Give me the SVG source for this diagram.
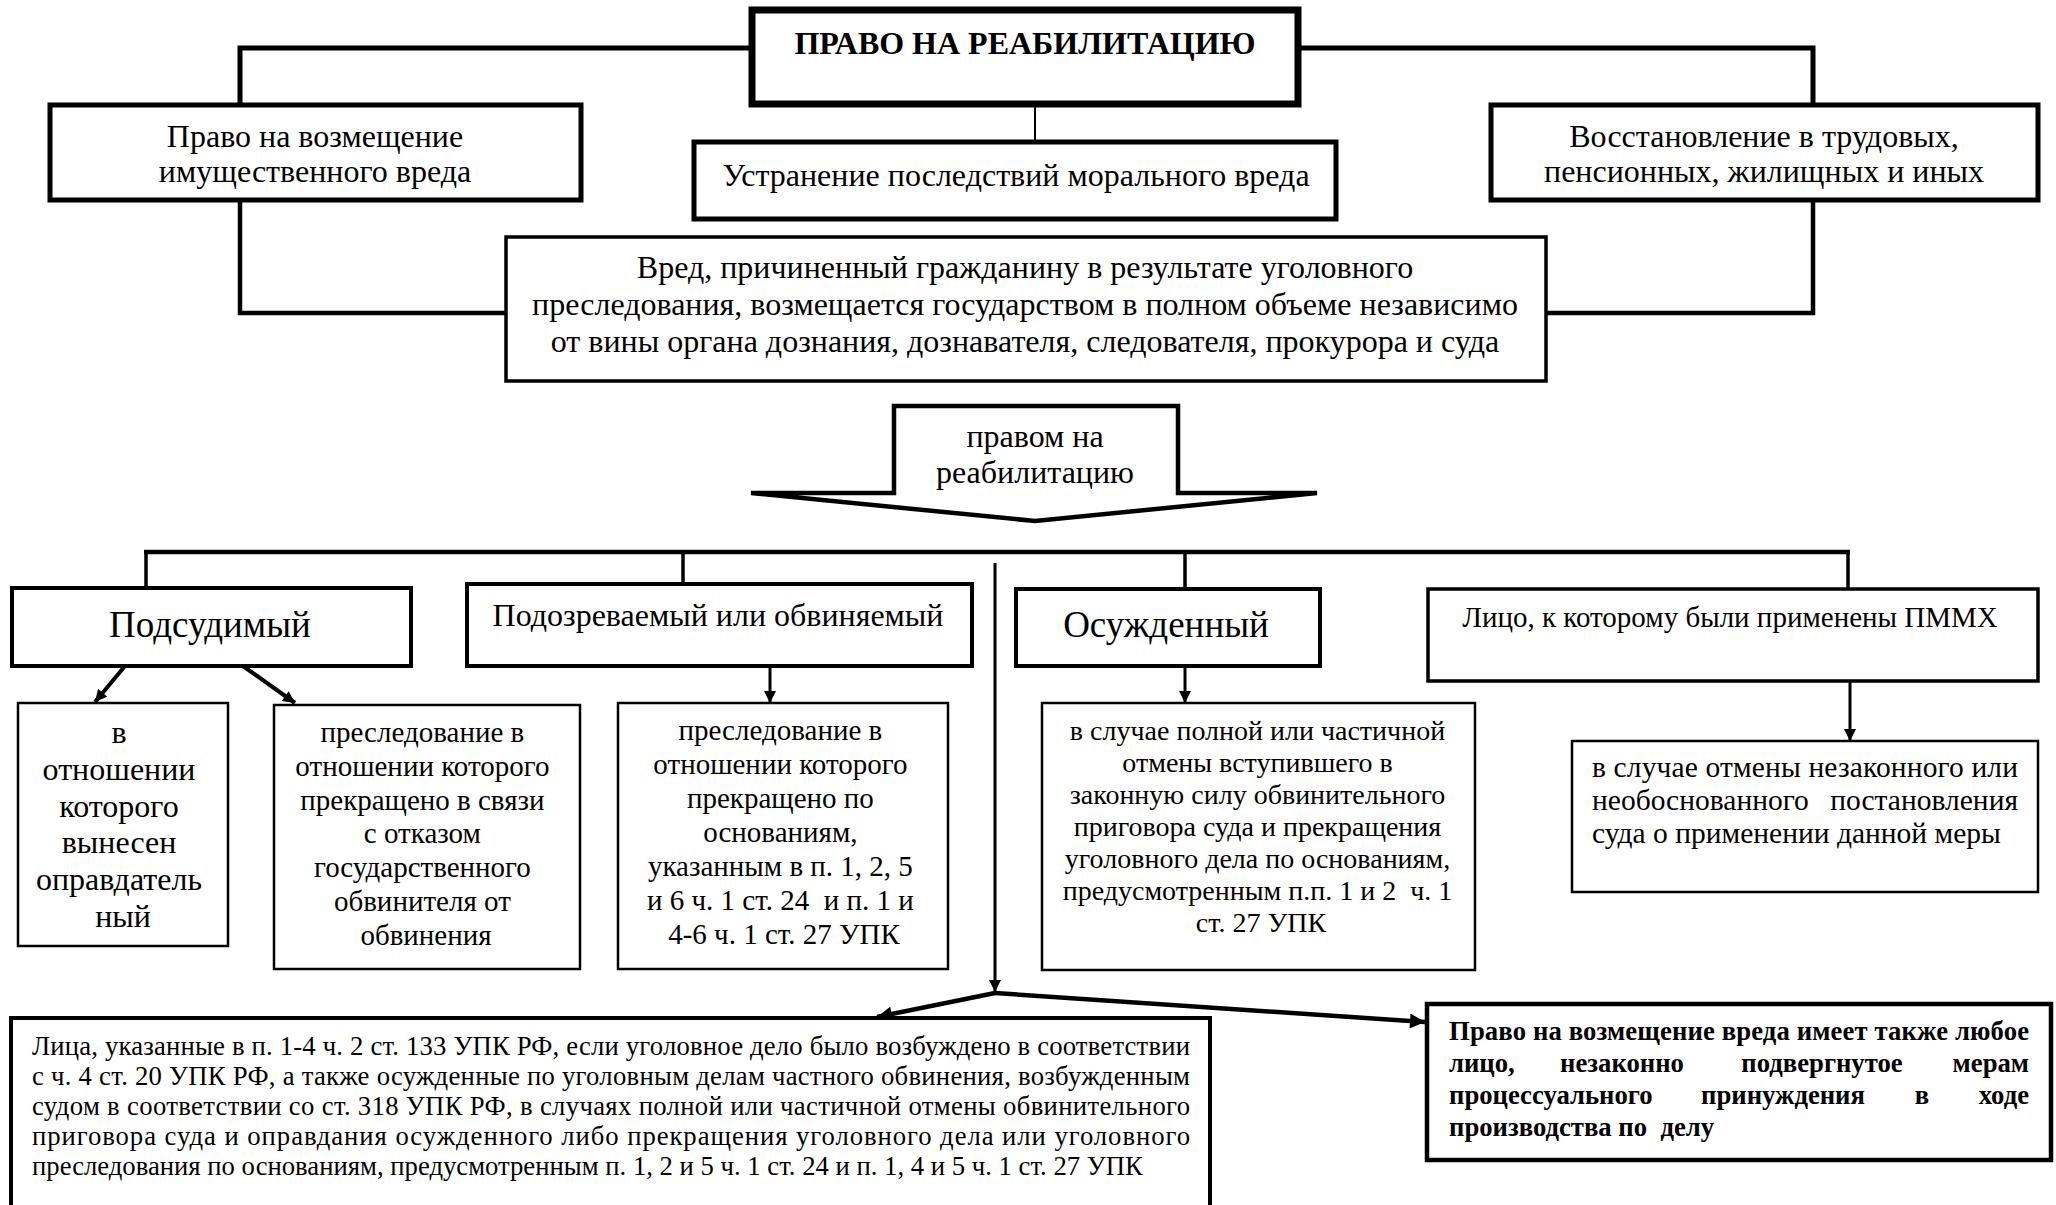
<svg xmlns="http://www.w3.org/2000/svg" width="2056" height="1205" viewBox="0 0 2056 1205">
<style>
  text { font-family: "Liberation Serif", "Times New Roman", serif; fill: #000; }
  .c { text-anchor: middle; }
  .e { text-anchor: end; }
  .box { fill: #fff; stroke: #000; }
  .conn { fill: none; stroke: #000; stroke-linejoin: miter; }
</style>
<defs>
  <marker id="ah" viewBox="0 0 10 10" refX="10" refY="5" markerUnits="userSpaceOnUse" markerWidth="13" markerHeight="12" orient="auto">
    <path d="M0,0 L10,5 L0,10 z" fill="#000"/>
  </marker>
  <marker id="ahL" viewBox="0 0 10 10" refX="10" refY="5" markerUnits="userSpaceOnUse" markerWidth="18" markerHeight="15" orient="auto">
    <path d="M0,0 L10,5 L0,10 z" fill="#000"/>
  </marker>
</defs>
<rect width="2056" height="1205" fill="#fff"/>

<g id="connectors">
  <polyline class="conn" stroke-width="5" points="752,48 240,48 240,105"/>
  <polyline class="conn" stroke-width="5" points="1298,48 1813,48 1813,105"/>
  <line class="conn" stroke-width="2" x1="1035" y1="104" x2="1035" y2="142"/>
  <polyline class="conn" stroke-width="4.5" points="240,200 240,313 506,313"/>
  <polyline class="conn" stroke-width="4.5" points="1813,200 1813,313 1546,313"/>
  <line class="conn" stroke-width="4.5" x1="144" y1="552" x2="1850" y2="552"/>
  <line class="conn" stroke-width="3.5" x1="146" y1="552" x2="146" y2="588"/>
  <line class="conn" stroke-width="3.5" x1="683" y1="552" x2="683" y2="584"/>
  <line class="conn" stroke-width="3.5" x1="1185" y1="552" x2="1185" y2="589"/>
  <line class="conn" stroke-width="3.5" x1="1848" y1="552" x2="1848" y2="589"/>
  <line class="conn" stroke-width="3" x1="995" y1="563" x2="995" y2="992" marker-end="url(#ah)"/>
  <line class="conn" stroke-width="4" x1="125" y1="666" x2="95" y2="702" marker-end="url(#ah)"/>
  <line class="conn" stroke-width="4" x1="243" y1="666" x2="295" y2="703" marker-end="url(#ah)"/>
  <line class="conn" stroke-width="3" x1="770" y1="666" x2="770" y2="703" marker-end="url(#ah)"/>
  <line class="conn" stroke-width="3" x1="1185" y1="666" x2="1185" y2="703" marker-end="url(#ah)"/>
  <line class="conn" stroke-width="3" x1="1850" y1="681" x2="1850" y2="741" marker-end="url(#ah)"/>
  <line class="conn" stroke-width="4.5" x1="995" y1="993" x2="877" y2="1017" marker-end="url(#ahL)"/>
  <line class="conn" stroke-width="4.5" x1="995" y1="993" x2="1425" y2="1022" marker-end="url(#ahL)"/>
</g>

<g id="node-title">
  <rect class="box" stroke-width="7" x="752" y="10" width="546" height="94"/>
  <text class="c" x="1025" y="54" font-size="32" font-weight="bold">ПРАВО НА РЕАБИЛИТАЦИЮ</text>
</g>

<g id="node-property">
  <rect class="box" stroke-width="5" x="50" y="105" width="531" height="95"/>
  <text class="c" x="315" y="147" font-size="32">Право на возмещение</text>
  <text class="c" x="315" y="182" font-size="32">имущественного вреда</text>
</g>

<g id="node-moral">
  <rect class="box" stroke-width="5" x="694" y="142" width="642" height="77"/>
  <text class="c" x="1016" y="186" font-size="32">Устранение последствий морального вреда</text>
</g>

<g id="node-restore">
  <rect class="box" stroke-width="5" x="1491" y="105" width="547" height="95"/>
  <text class="c" x="1764" y="147" font-size="32">Восстановление в трудовых,</text>
  <text class="c" x="1764" y="182" font-size="32">пенсионных, жилищных и иных</text>
</g>

<g id="node-harm">
  <rect class="box" stroke-width="3.5" x="506" y="237" width="1040" height="144"/>
  <text class="c" x="1025" y="278" font-size="32">Вред, причиненный гражданину в результате уголовного</text>
  <text class="c" x="1025" y="315" font-size="32">преследования, возмещается государством в полном объеме независимо</text>
  <text class="c" x="1025" y="352" font-size="32">от вины органа дознания, дознавателя, следователя, прокурора и суда</text>
</g>

<g id="node-arrow">
  <polygon fill="#fff" stroke="#000" stroke-width="4.5" stroke-linejoin="miter" points="894,406 1178,406 1178,493 1317,493 1035,521 751,493 894,493"/>
  <text class="c" x="1035" y="447" font-size="32">правом на</text>
  <text class="c" x="1035" y="483" font-size="32">реабилитацию</text>
</g>

<g id="node-defendant">
  <rect class="box" stroke-width="4" x="12" y="588" width="399" height="78"/>
  <text class="c" x="210" y="637" font-size="37">Подсудимый</text>
</g>

<g id="node-suspect">
  <rect class="box" stroke-width="4" x="467" y="584" width="505" height="82"/>
  <text class="c" x="718" y="626" font-size="32">Подозреваемый или обвиняемый</text>
</g>

<g id="node-convicted">
  <rect class="box" stroke-width="4" x="1016" y="589" width="304" height="77"/>
  <text class="c" x="1166" y="637" font-size="37">Осужденный</text>
</g>

<g id="node-pmmh">
  <rect class="box" stroke-width="3.5" x="1428" y="589" width="610" height="92"/>
  <text class="c" x="1730" y="627" font-size="29">Лицо, к которому были применены ПММХ</text>
</g>

<g id="node-a">
  <rect class="box" stroke-width="2.5" x="18" y="703" width="210" height="243"/>
  <text class="c" font-size="32">
    <tspan x="123" y="743">в</tspan>
    <tspan x="123" y="780">отношении</tspan>
    <tspan x="123" y="817">которого</tspan>
    <tspan x="123" y="853">вынесен</tspan>
    <tspan x="123" y="890">оправдатель</tspan>
    <tspan x="123" y="927">ный</tspan>
  </text>
</g>

<g id="node-b">
  <rect class="box" stroke-width="2.5" x="274" y="705" width="306" height="264"/>
  <text class="c" font-size="29">
    <tspan x="426" y="742">преследование в</tspan>
    <tspan x="426" y="776">отношении которого</tspan>
    <tspan x="426" y="810">прекращено в связи</tspan>
    <tspan x="426" y="843">с отказом</tspan>
    <tspan x="426" y="877">государственного</tspan>
    <tspan x="426" y="911">обвинителя от</tspan>
    <tspan x="426" y="945">обвинения</tspan>
  </text>
</g>

<g id="node-c">
  <rect class="box" stroke-width="2.5" x="618" y="703" width="330" height="266"/>
  <text class="c" font-size="29">
    <tspan x="784" y="740">преследование в</tspan>
    <tspan x="784" y="774">отношении которого</tspan>
    <tspan x="784" y="808">прекращено по</tspan>
    <tspan x="784" y="842">основаниям,</tspan>
    <tspan x="784" y="876">указанным в п. 1, 2, 5</tspan>
    <tspan x="784" y="910">и 6 ч. 1 ст. 24&#160; и п. 1 и</tspan>
    <tspan x="784" y="944">4-6 ч. 1 ст. 27 УПК</tspan>
  </text>
</g>

<g id="node-d">
  <rect class="box" stroke-width="2.5" x="1042" y="703" width="433" height="267"/>
  <text class="c" font-size="28">
    <tspan x="1261" y="740">в случае полной или частичной</tspan>
    <tspan x="1261" y="772">отмены вступившего в</tspan>
    <tspan x="1261" y="804">законную силу обвинительного</tspan>
    <tspan x="1261" y="836">приговора суда и прекращения</tspan>
    <tspan x="1261" y="868">уголовного дела по основаниям,</tspan>
    <tspan x="1261" y="900">предусмотренным п.п. 1 и 2&#160; ч. 1</tspan>
    <tspan x="1261" y="932">ст. 27 УПК</tspan>
  </text>
</g>

<g id="node-e">
  <rect class="box" stroke-width="2.5" x="1572" y="741" width="466" height="151"/>
  <text font-size="29.5" x="1592" y="777" textLength="426" lengthAdjust="spacing">в случае отмены незаконного или</text>
  <text font-size="29.5" x="1592" y="810">необоснованного</text>
  <text class="e" font-size="29.5" x="2018" y="810">постановления</text>
  <text font-size="29.5" x="1592" y="843">суда о применении данной меры</text>
</g>

<g id="node-persons">
  <rect class="box" stroke-width="4" x="11" y="1018" width="1199" height="200"/>
  <text font-size="26.7" x="32" y="1055" textLength="1158" lengthAdjust="spacing">Лица, указанные в п. 1-4 ч. 2 ст. 133 УПК РФ, если уголовное дело было возбуждено в соответствии</text>
  <text font-size="26.7" x="32" y="1085" textLength="1158" lengthAdjust="spacing">с ч. 4 ст. 20 УПК РФ, а также осужденные по уголовным делам частного обвинения, возбужденным</text>
  <text font-size="26.7" x="32" y="1115" textLength="1158" lengthAdjust="spacing">судом в соответствии со ст. 318 УПК РФ, в случаях полной или частичной отмены обвинительного</text>
  <text font-size="26.7" x="32" y="1145" textLength="1158" lengthAdjust="spacing">приговора суда и оправдания осужденного либо прекращения уголовного дела или уголовного</text>
  <text font-size="26.7" x="32" y="1175">преследования по основаниям, предусмотренным п. 1, 2 и 5 ч. 1 ст. 24 и п. 1, 4 и 5 ч. 1 ст. 27 УПК</text>
</g>

<g id="node-any">
  <rect class="box" stroke-width="4.5" x="1427" y="1004" width="624" height="156"/>
  <text font-size="26.7" font-weight="bold" x="1449" y="1040" textLength="580" lengthAdjust="spacing">Право на возмещение вреда имеет также любое</text>
  <text font-size="26.7" font-weight="bold" x="1449" y="1072">лицо,</text>
  <text class="c" font-size="26.7" font-weight="bold" x="1622" y="1072">незаконно</text>
  <text class="c" font-size="26.7" font-weight="bold" x="1822" y="1072">подвергнутое</text>
  <text class="e" font-size="26.7" font-weight="bold" x="2029" y="1072">мерам</text>
  <text font-size="26.7" font-weight="bold" x="1449" y="1104">процессуального</text>
  <text class="c" font-size="26.7" font-weight="bold" x="1783" y="1104">принуждения</text>
  <text class="c" font-size="26.7" font-weight="bold" x="1922" y="1104">в</text>
  <text class="e" font-size="26.7" font-weight="bold" x="2029" y="1104">ходе</text>
  <text font-size="26.7" font-weight="bold" x="1449" y="1136">производства по&#160; делу</text>
</g>
</svg>
